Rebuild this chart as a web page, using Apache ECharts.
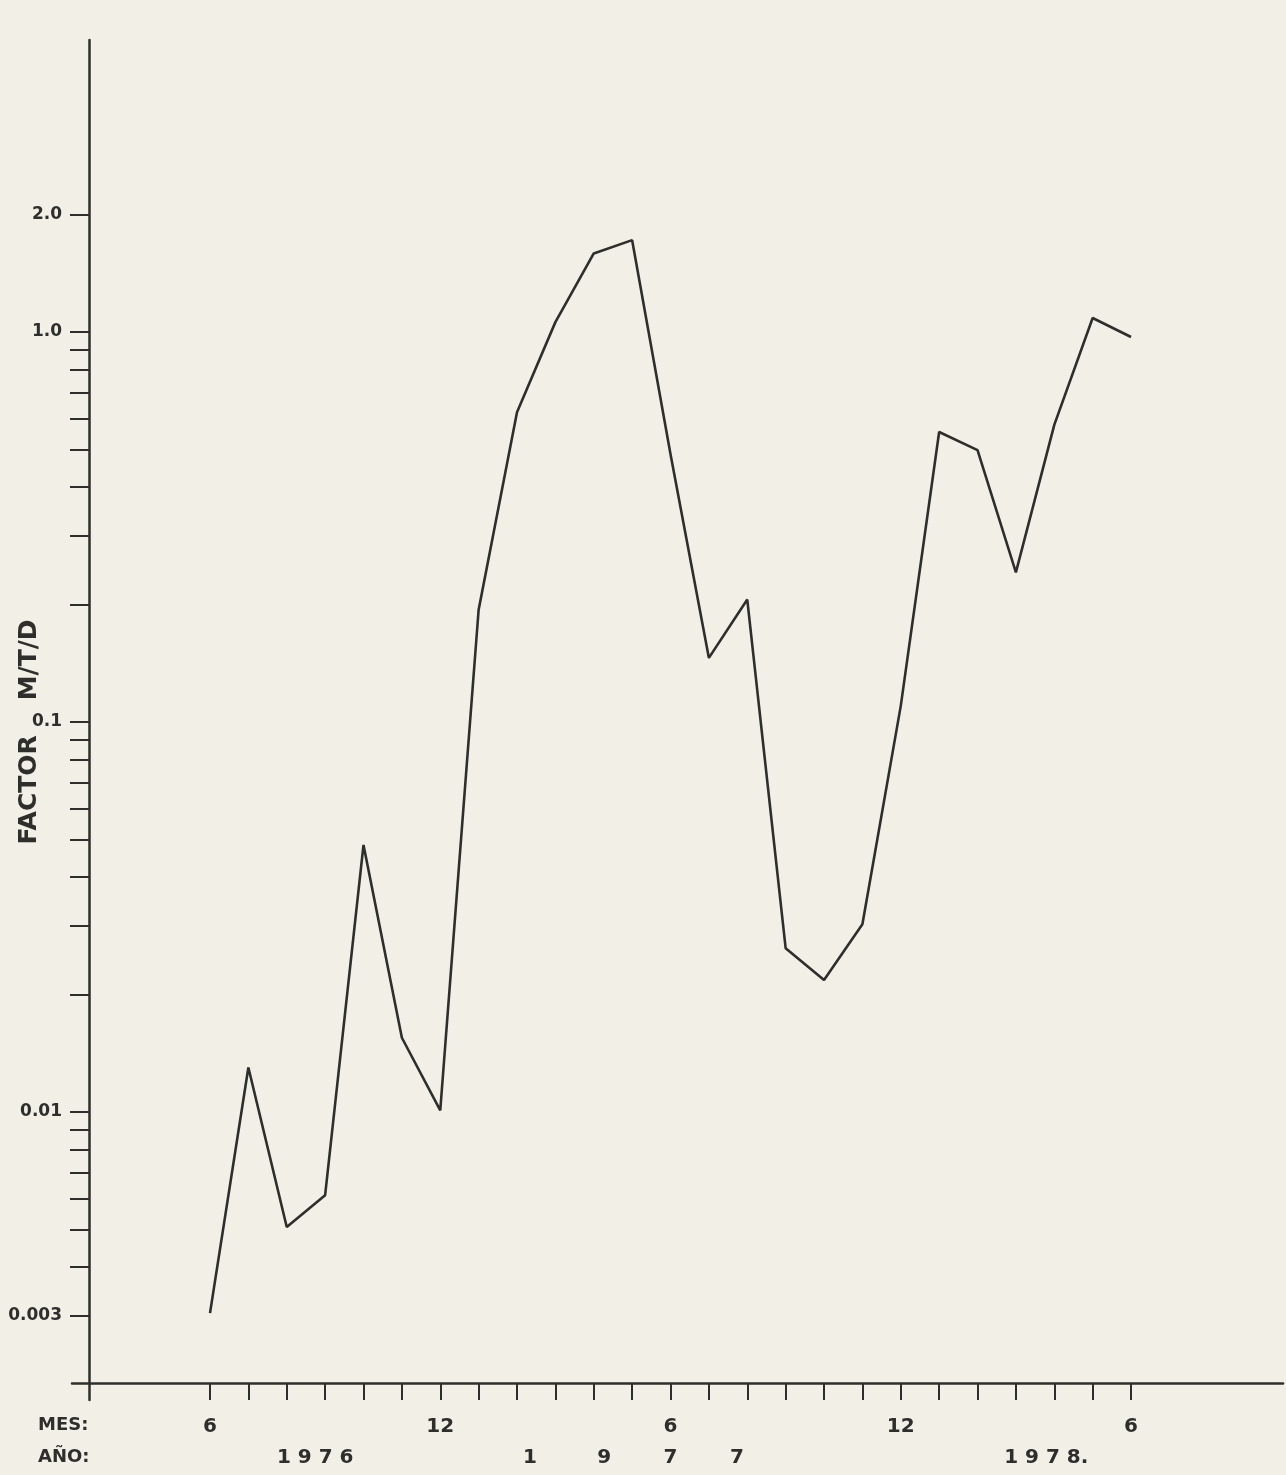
<!DOCTYPE html>
<html>
<head>
<meta charset="utf-8">
<script src="https://cdn.jsdelivr.net/npm/echarts@6/dist/echarts.min.js"></script>
<style>
html,body{margin:0;padding:0;background:#f2f0e6;}
#chart{width:1286px;height:1475px;}
</style>
</head>
<body>
<div id="chart"></div>
<script>
// Months plotted (index 0 = June 1976 ... index 24 = June 1978)
const months = ['6/1976','7/1976','8/1976','9/1976','10/1976','11/1976','12/1976',
  '1/1977','2/1977','3/1977','4/1977','5/1977','6/1977','7/1977','8/1977','9/1977','10/1977','11/1977','12/1977',
  '1/1978','2/1978','3/1978','4/1978','5/1978','6/1978'];
// FACTOR M/T/D values (log scale)
const factor = [0.00305, 0.0130, 0.00507, 0.00612, 0.0484, 0.0155, 0.0101,
  0.194, 0.623, 1.06, 1.59, 1.72, 0.486, 0.146, 0.206, 0.0263, 0.0218, 0.0303, 0.11,
  0.554, 0.498, 0.242, 0.578, 1.086, 0.971];

// Y axis ticks and labels
const yTickValues = [2, 1, 0.9, 0.8, 0.7, 0.6, 0.5, 0.4, 0.3, 0.2,
  0.1, 0.09, 0.08, 0.07, 0.06, 0.05, 0.04, 0.03, 0.02,
  0.01, 0.009, 0.008, 0.007, 0.006, 0.005, 0.004, 0.003];
const yLabelValues = [2, 1, 0.1, 0.01, 0.003];
const yLabelTexts = ['2.0', '1.0', '0.1', '0.01', '0.003'];
const yMin = 0.001826, yMax = 5.607;

// X axis (months) ticks and labels
const xTickIndex = [0,1,2,3,4,5,6,7,8,9,10,11,12,13,14,15,16,17,18,19,20,21,22,23,24];
const xLabelIndex = [0, 6, 12, 18, 24];
const xLabelTexts = ['6', '12', '6', '12', '6'];
const xMin = -3.596, xMax = 27.96;

// Year row labels (positions in month-index units)
const yearPos = [2.74, 8.34, 10.27, 12.0, 13.73, 21.79];
const yearTexts = ['1 9 7 6', '1', '9', '7', '7', '1 9 7 8.'];

const ink = '#2e2e2c';
const font = 'DejaVu Sans';

const chart = echarts.init(document.getElementById('chart'));
const L = v => Math.log10(v);
function pick(vals, texts, v, tr) {
  let best = 0, bd = Infinity;
  vals.forEach((x, i) => { const d = Math.abs((tr ? tr(x) : x) - v); if (d < bd) { bd = d; best = i; } });
  return texts[best];
}

chart.setOption({
  backgroundColor: '#f2f0e6',
  animation: false,
  grid: { left: 72, top: 40, right: 3, bottom: 75, containLabel: false, outerBoundsMode: 'none' },
  xAxis: [
    {
      type: 'value', min: xMin, max: xMax, offset: -17, position: 'bottom',
      axisLine: { show: true, onZero: false, lineStyle: { color: ink, width: 2.5 } },
      axisTick: { show: true, length: 17, lineStyle: { color: ink, width: 2 }, customValues: xTickIndex },
      axisLabel: {
        customValues: xLabelIndex, margin: 34, color: ink, fontFamily: font, fontSize: 20, fontWeight: 'bold',
        formatter: v => pick(xLabelIndex, xLabelTexts, v)
      },
      splitLine: { show: false }
    },
    {
      type: 'value', min: xMin, max: xMax, offset: -17, position: 'bottom',
      axisLine: { show: false, onZero: false }, axisTick: { show: false },
      axisLabel: {
        customValues: yearPos, margin: 65, color: ink, fontFamily: font, fontSize: 20, fontWeight: 'bold',
        formatter: v => pick(yearPos, yearTexts, v)
      },
      splitLine: { show: false }
    }
  ],
  yAxis: [
    { type: 'log', logBase: 10, min: yMin, max: yMax, show: false, axisLine: { onZero: false } },
    {
      type: 'value', min: L(yMin), max: L(yMax), offset: -17, position: 'left',
      name: 'FACTOR    M/T/D', nameLocation: 'middle', nameRotate: 90, nameGap: 47, nameMoveOverlap: false,
      nameTextStyle: { color: ink, fontFamily: font, fontSize: 25, fontWeight: 'bold', padding: [0, 24, 0, 0] },
      axisLine: { show: true, onZero: false, lineStyle: { color: ink, width: 2.5 } },
      axisTick: { show: true, length: 19, lineStyle: { color: ink, width: 2 }, customValues: yTickValues.map(L) },
      axisLabel: {
        customValues: yLabelValues.map(L), margin: 27, color: ink, fontFamily: font, fontSize: 17, fontWeight: 'bold',
        formatter: v => pick(yLabelValues, yLabelTexts, v, L)
      },
      splitLine: { show: false }
    }
  ],
  graphic: [
    { type: 'text', left: 38, top: 1416, style: { text: 'MES:', fill: ink, font: 'bold 18px "DejaVu Sans"' } },
    { type: 'text', left: 38, top: 1448, style: { text: 'AÑO:', fill: ink, font: 'bold 18px "DejaVu Sans"' } }
  ],
  series: [{
    type: 'line', xAxisIndex: 0, yAxisIndex: 0,
    data: factor.map((v, i) => [xTickIndex[i], v]),
    symbol: 'none',
    lineStyle: { color: ink, width: 2.6 }
  }]
});
</script>
</body>
</html>
